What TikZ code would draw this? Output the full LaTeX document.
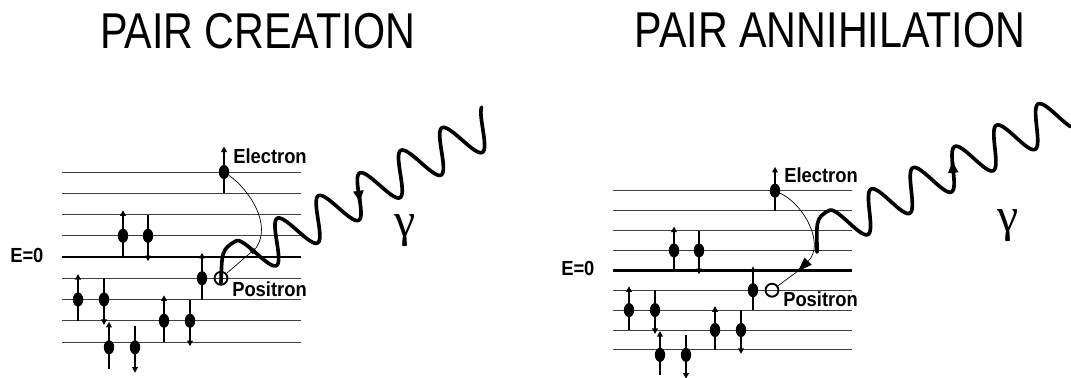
\documentclass[tikz,border=0pt]{standalone}
\usepackage{fontspec}
\setmainfont{Liberation Sans}
\newfontfamily\titlefont[FakeStretch=0.82]{Liberation Sans}
\newfontfamily\labelfont[FakeStretch=0.9]{Liberation Sans}
\newfontfamily\greekfont{Liberation Serif}
\usetikzlibrary{arrows.meta,shapes.geometric}
\tikzset{
  band/.style={black!75, line width=0.6pt},
  fermi/.style={black, line width=1.8pt},
  spin/.style={line width=1.4pt, -{Triangle[length=4pt,width=4pt]}},
  edot/.style={
    ellipse,
    fill=black,
    minimum width=7.4pt,
    minimum height=10pt,
    inner sep=0pt
  },
  hole/.style={
    circle,
    draw=black,
    line width=1.3pt,
    minimum size=9.2pt,
    inner sep=0pt
  },
  lbl/.style={font=\labelfont\bfseries\fontsize{14.5}{16}\selectfont, inner sep=0pt, anchor=base west},
  headline/.style={font=\titlefont\fontsize{35.8}{40}\selectfont},
  gammalbl/.style={font=\greekfont\fontsize{34}{36}\selectfont},
  transfer/.style={line width=0.5pt},
  photon/.style={line width=2.6pt, line cap=round, line join=round},
  photonhead/.style={photon, -{Triangle[length=8pt,width=7pt]}}
}
\newcommand{\bandpanel}[1]{%
  \foreach \lv in {0,...,8} {
    \draw[band] (0,\lv) -- (239,\lv);
  }
  \draw[fermi] (0,4) -- (239,4);
  \foreach \ex/\lv/\sp [count=\i] in {162/0/1,61/3/1,86/3/-1,140/5/1,16/6/1,42/6/-1,102/7/1,128/7/-1,47/8.25/1,73/8.25/-1} {
    \draw[spin] ({\ex},{\lv+\sp}) -- ({\ex},{\lv-1.2*\sp});
    \node[edot] (#1e\i) at (\ex,\lv) {};
  }
  \node[hole] (#1pos) at (159,5) {};
  \node[lbl] (#1elabel) at (171,-0.405) {Electron};
  \node[lbl] (#1plabel) at (170,5.84) {Positron};
  \node[lbl] (#1zero) at (-52,4.25) {E=0};
}

\begin{document}
\begin{tikzpicture}[x=0.025cm, y=-0.025cm]
  \useasboundingbox (0,0) rectangle (1071,377);
  \node[headline] (ctitle) at (257.5,31.5) {PAIR CREATION};
  \node[headline] (atitle) at (830,30) {PAIR ANNIHILATION};

  % pair creation
  \begin{scope}[shift={(62,172)}, yscale=21.25]
    \bandpanel{c}
  \end{scope}
  \coordinate (ctip) at (256,248);
  \draw[transfer] (ce1) .. controls (250,190) and (272,225) .. (ctip);
  \draw[transfer, -{Triangle[length=4.5pt,width=3.5pt]}] (cpos) -- (ctip);
  \begin{scope}[shift={(318,219.3)}, rotate=28.8]
    \coordinate (cw0) at ({47*-1.75},-20.5);
    \draw[photon] plot[domain=-1.75:4.2, samples=300] ({47*\x}, {-20.5*sin(360*\x)});
    \draw[photonhead] plot[domain=1.04:0.96, samples=8] ({47*\x}, {-20.5*sin(360*\x)});
  \end{scope}
  \coordinate (cwstart) at (221,283);
  \draw[photon] (cwstart) .. controls +(1,-30) and +(-15,8.2) .. (cw0);
  \node[gammalbl] (cgamma) at (405,231) {γ};

  % pair annihilation
  \begin{scope}[shift={(613,190.7)}, yscale=19.9]
    \bandpanel{a}
  \end{scope}
  \coordinate (atip) at (798,271);
  \draw[transfer, -{Triangle[length=10pt,width=7pt]}] (ae1) .. controls (805,205) and (825,245) .. (atip);
  \draw[transfer] (atip) -- (apos);
  \begin{scope}[shift={(869.5,211.8)}, rotate=27]
    \coordinate (aw0) at ({46.9*-0.75},-19.5);
    \draw[photon] plot[domain=-0.75:4.65, samples=300] ({46.9*\x}, {-19.5*sin(360*\x)});
    \draw[photonhead] plot[domain=1.97:2.06, samples=8] ({46.9*\x}, {-19.5*sin(360*\x)});
  \end{scope}
  \coordinate (awstart) at (817,252);
  \draw[photon] (awstart) .. controls +(0,-28) and +(-15,7.6) .. (aw0);
  \node[gammalbl] (agamma) at (1008,226) {γ};
\end{tikzpicture}
\end{document}
